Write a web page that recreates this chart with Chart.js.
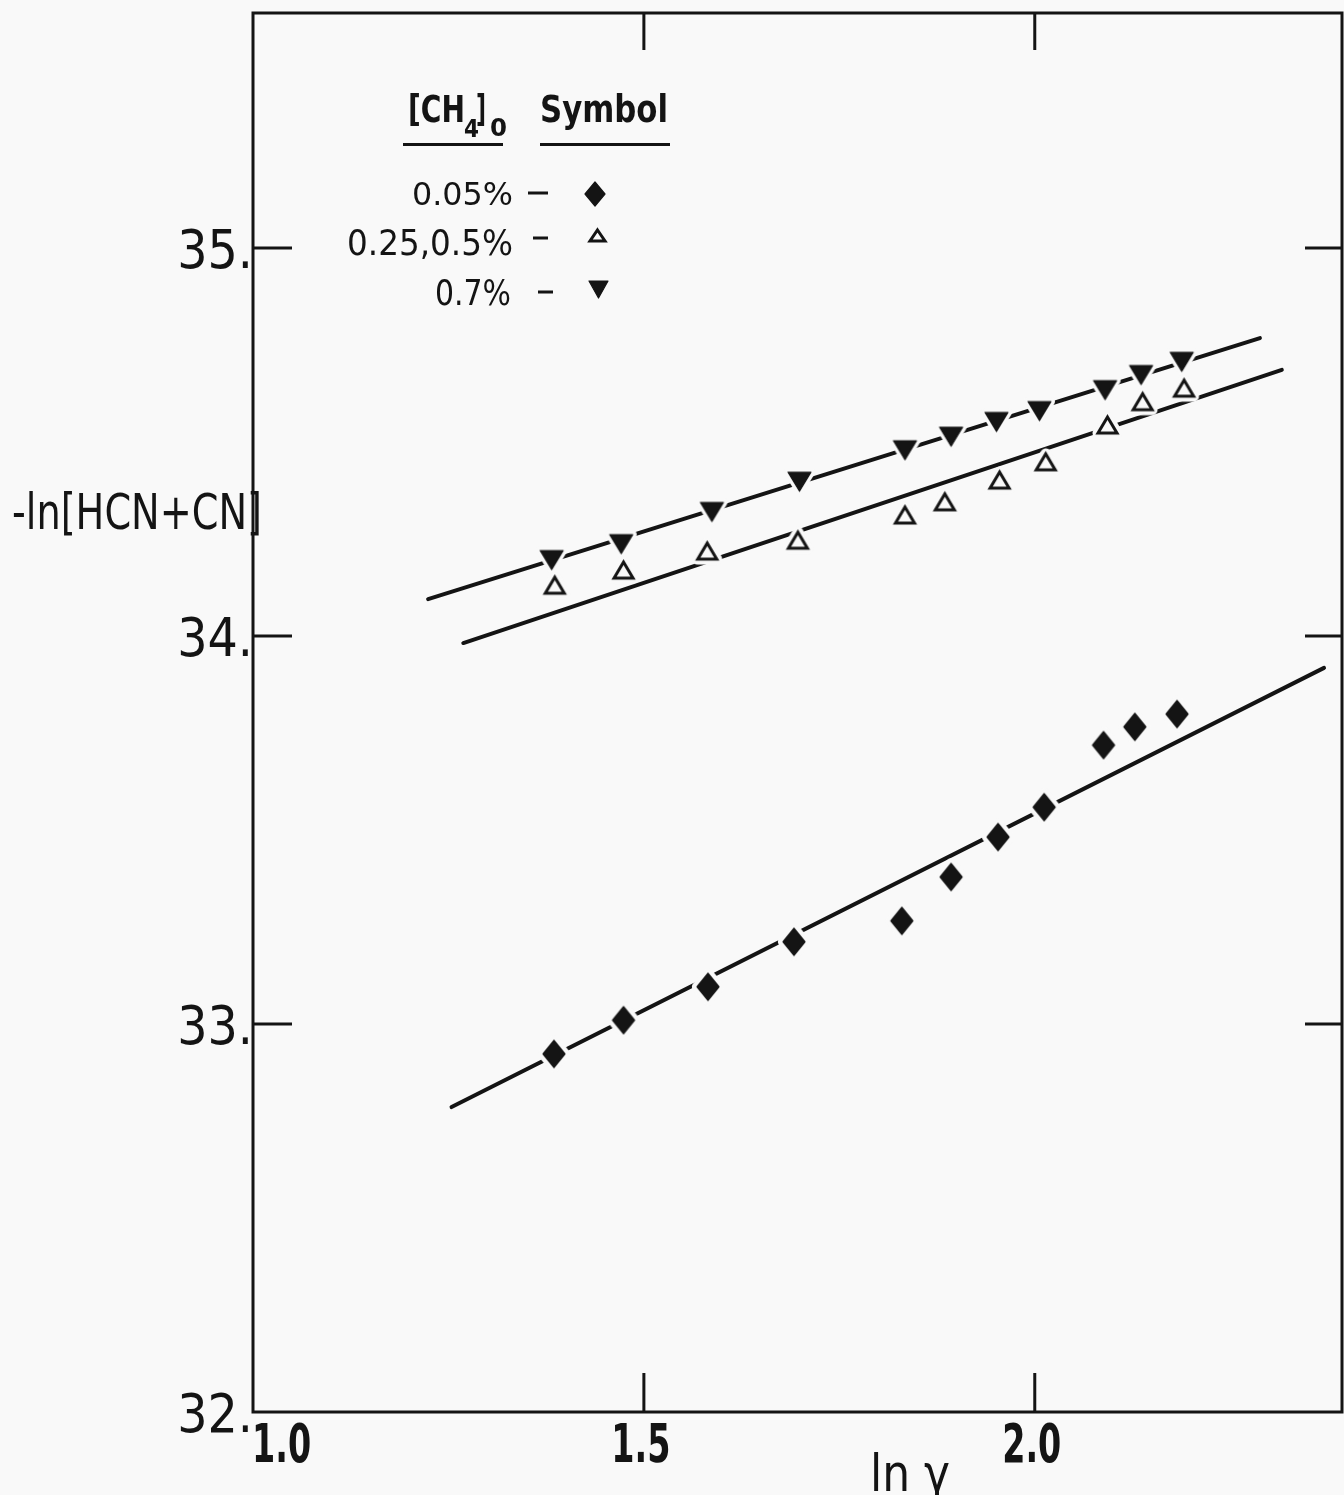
<!DOCTYPE html>
<html>
<head>
<meta charset="utf-8">
<script src="https://cdn.jsdelivr.net/npm/chart.js@4.4.1/dist/chart.umd.min.js"></script>
<style>
  html, body { margin: 0; padding: 0; background: #f9f9f9; }
  #wrap { width: 1344px; height: 1495px; }
  canvas { display: block; }
</style>
</head>
<body>
<div id="wrap"><canvas id="c" width="1344" height="1495"></canvas></div>
<script>
// -ln[HCN+CN] against ln(gamma) for three initial methane concentrations

// [CH4]0 = 0.05 %  (filled diamonds)
const lnGamma05 = [1.385, 1.474, 1.582, 1.692, 1.830, 1.893, 1.953, 2.012, 2.088, 2.128, 2.182];
const value05   = [32.923, 33.010, 33.096, 33.212, 33.266, 33.379, 33.482, 33.559, 33.719, 33.766, 33.799];

// [CH4]0 = 0.25, 0.5 %  (open triangles)
const lnGamma25 = [1.386, 1.474, 1.581, 1.697, 1.834, 1.885, 1.955, 2.014, 2.093, 2.138, 2.191];
const value25   = [34.131, 34.170, 34.219, 34.247, 34.312, 34.346, 34.402, 34.449, 34.544, 34.604, 34.639];

// [CH4]0 = 0.7 %  (filled inverted triangles)
const lnGamma07 = [1.382, 1.471, 1.587, 1.699, 1.834, 1.893, 1.951, 2.006, 2.090, 2.136, 2.188];
const value07   = [34.196, 34.237, 34.320, 34.398, 34.479, 34.514, 34.552, 34.580, 34.634, 34.673, 34.707];

// straight lines drawn through each set (end points)
const fitX05 = [1.254, 2.370];
const fitY05 = [32.786, 33.918];
const fitX25 = [1.269, 2.316];
const fitY25 = [33.982, 34.686];
const fitX07 = [1.224, 2.288];
const fitY07 = [34.095, 34.768];

// axes
const xTickValues = [1.0, 1.5, 2.0];
const xTickLabels = ['1.0', '1.5', '2.0'];
const yTickValues = [32, 33, 34, 35];
const yTickLabels = ['32.', '33.', '34.', '35.'];
const xRange = [1.0, 2.393];
const yRange = [32, 35.606];
const xTitle = 'ln γ';
const yTitle = '-ln[HCN+CN]';

// key
const keyHeaders = ['[CH', '4', ']', '0', 'Symbol'];
const seriesLabels = ['0.05%', '0.25,0.5%', '0.7%'];

const INK = '#141414';
const PAPER = '#f9f9f9';
const NARROW = "'Liberation Sans Narrow', 'DejaVu Sans Condensed', sans-serif";
const WIDE = "'DejaVu Sans', 'Liberation Sans', sans-serif";

function pts(xs, ys) { return xs.map((x, i) => ({ x: x, y: ys[i] })); }

function shapePath(ctx, kind, cx, cy, w, h) {
  ctx.beginPath();
  if (kind === 'diamond') {
    ctx.moveTo(cx, cy - h / 2); ctx.lineTo(cx + w / 2, cy);
    ctx.lineTo(cx, cy + h / 2); ctx.lineTo(cx - w / 2, cy);
  } else if (kind === 'down') {
    ctx.moveTo(cx - w / 2, cy - h / 2); ctx.lineTo(cx + w / 2, cy - h / 2);
    ctx.lineTo(cx, cy + h / 2);
  } else {
    ctx.moveTo(cx, cy - h / 2); ctx.lineTo(cx + w / 2, cy + h / 2);
    ctx.lineTo(cx - w / 2, cy + h / 2);
  }
  ctx.closePath();
}

// marker bitmaps; a halo version knocks the fitted line out around each symbol
function makeMarker(kind, w, h, halo) {
  const pad = halo + 4;
  const cv = document.createElement('canvas');
  cv.width = Math.round(w + 2 * pad);
  cv.height = Math.round(h + 2 * pad);
  const ctx = cv.getContext('2d');
  const cx = cv.width / 2, cy = cv.height / 2;
  shapePath(ctx, kind, cx, cy, w, h);
  ctx.lineJoin = 'round';
  if (halo > 0) {
    ctx.fillStyle = PAPER; ctx.strokeStyle = PAPER;
    ctx.lineWidth = 2 * halo + (kind === 'up' ? 3 : 0);
    ctx.fill(); ctx.stroke();
    return cv;
  }
  if (kind === 'up') {
    ctx.fillStyle = PAPER; ctx.fill();
    ctx.lineJoin = 'miter';
    ctx.lineWidth = 3; ctx.strokeStyle = INK; ctx.stroke();
  } else {
    ctx.fillStyle = INK; ctx.fill();
    ctx.lineWidth = 1.2; ctx.strokeStyle = INK; ctx.stroke();
  }
  return cv;
}

const markDiamond = makeMarker('diamond', 22, 27, 0);
const markUp = makeMarker('up', 19, 16, 0);
const markDown = makeMarker('down', 23, 19, 0);
const haloDiamond = makeMarker('diamond', 22, 27, 5);
const haloUp = makeMarker('up', 19, 16, 4);
const haloDown = makeMarker('down', 23, 19, 4);

const keyDiamond = makeMarker('diamond', 20, 24, 0);
const keyUp = makeMarker('up', 15, 11, 0);
const keyDown = makeMarker('down', 19, 17, 0);

function fitText(ctx, text, x, y, font, width, align) {
  ctx.save();
  ctx.font = font;
  ctx.textAlign = 'left';
  ctx.textBaseline = 'alphabetic';
  const m = ctx.measureText(text).width;
  const sx = width / m;
  const left = align === 'right' ? x - width : (align === 'center' ? x - width / 2 : x);
  ctx.translate(left, y);
  ctx.scale(sx, 1);
  ctx.fillText(text, 0, 0);
  ctx.restore();
}

// lettering on the x axis is condensed; draw it squeezed horizontally
function squeezedText(ctx, text, x, y, font, squeeze, align) {
  ctx.save();
  ctx.font = font;
  const w = ctx.measureText(text).width * squeeze;
  fitText(ctx, text, x, y, font, w, align);
  ctx.restore();
}

const paperPlugin = {
  id: 'paper',
  beforeDraw(chart) {
    const ctx = chart.ctx;
    ctx.save();
    ctx.fillStyle = PAPER;
    ctx.fillRect(0, 0, chart.width, chart.height);
    ctx.restore();
  }
};

const framePlugin = {
  id: 'frame',
  afterDraw(chart) {
    const ctx = chart.ctx;
    const a = chart.chartArea;
    const xs = chart.scales.x, ys = chart.scales.y;
    ctx.save();
    ctx.strokeStyle = INK;
    ctx.fillStyle = INK;
    ctx.lineWidth = 3;
    ctx.lineCap = 'butt';
    ctx.strokeRect(a.left, a.top, a.right - a.left, a.bottom - a.top);

    // inward tick marks on all four sides
    ctx.beginPath();
    xTickValues.forEach(v => {
      if (v <= xRange[0]) return;
      const px = xs.getPixelForValue(v);
      ctx.moveTo(px, a.top); ctx.lineTo(px, a.top + 37);
      ctx.moveTo(px, a.bottom); ctx.lineTo(px, a.bottom - 39);
    });
    yTickValues.forEach(v => {
      if (v <= yRange[0]) return;
      const py = ys.getPixelForValue(v);
      ctx.moveTo(a.left, py); ctx.lineTo(a.left + 39, py);
      ctx.moveTo(a.right, py); ctx.lineTo(a.right - 37, py);
    });
    ctx.stroke();

    // x tick labels: first one starts at the corner, the rest sit centred under their ticks
    xTickValues.forEach((v, i) => {
      const px = xs.getPixelForValue(v);
      const first = v <= xRange[0];
      squeezedText(ctx, xTickLabels[i], first ? px - 1 : px - 3, a.bottom + 50,
                   'bold 53px ' + NARROW, 0.7, first ? 'left' : 'center');
    });

    // axis titles
    fitText(ctx, yTitle, 12, 529, '50px ' + NARROW, 250, 'left');
    fitText(ctx, xTitle, 910, 1491, '52px ' + NARROW, 80, 'center');

    // key: headings
    const hb = 'bold 37px ' + WIDE;
    const hs = 'bold 25px ' + WIDE;
    fitText(ctx, keyHeaders[0], 408, 122, hb, 57, 'left');
    fitText(ctx, keyHeaders[1], 464, 137, hs, 15, 'left');
    fitText(ctx, keyHeaders[2], 476, 122, hb, 10, 'left');
    fitText(ctx, keyHeaders[3], 490, 136, hs, 17, 'left');
    fitText(ctx, keyHeaders[4], 540, 122, 'bold 37px ' + WIDE, 128, 'left');
    ctx.fillRect(403, 143, 100, 3);
    ctx.fillRect(540, 143, 130, 3);

    // key: rows
    fitText(ctx, seriesLabels[0], 513, 205, '32px ' + WIDE, 101, 'right');
    fitText(ctx, seriesLabels[1], 513, 255, '35px ' + WIDE, 166, 'right');
    fitText(ctx, seriesLabels[2], 511, 305, '35px ' + WIDE, 76, 'right');
    ctx.beginPath();
    ctx.moveTo(528, 193); ctx.lineTo(548, 193);
    ctx.moveTo(533, 238); ctx.lineTo(548, 238);
    ctx.moveTo(538, 292); ctx.lineTo(553, 292);
    ctx.stroke();
    [[keyDiamond, 595, 194], [keyUp, 597, 235], [keyDown, 598, 289]].forEach(k => {
      const img = k[0];
      ctx.drawImage(img, Math.round(k[1] - img.width / 2), Math.round(k[2] - img.height / 2));
    });
    ctx.restore();
  }
};

// the frame is fixed, so labels may run past the plot edges without reserving room
function noOverflowPadding(scale) {
  scale.paddingTop = 0; scale.paddingBottom = 0;
  scale.paddingLeft = 0; scale.paddingRight = 0;
}

const lineStyle = { showLine: true, borderColor: INK, borderWidth: 4, borderCapStyle: 'round',
                    pointRadius: 0, pointHoverRadius: 0, order: 3 };
const pointStyleOf = (img, ord) => ({ pointStyle: img, pointRadius: 12, pointHoverRadius: 12, order: ord });

new Chart(document.getElementById('c'), {
  type: 'scatter',
  data: {
    datasets: [
      Object.assign({ label: 'fit 0.05%', data: pts(fitX05, fitY05) }, lineStyle),
      Object.assign({ label: 'fit 0.25,0.5%', data: pts(fitX25, fitY25) }, lineStyle),
      Object.assign({ label: 'fit 0.7%', data: pts(fitX07, fitY07) }, lineStyle),
      Object.assign({ label: 'halo ' + seriesLabels[0], data: pts(lnGamma05, value05) }, pointStyleOf(haloDiamond, 2)),
      Object.assign({ label: 'halo ' + seriesLabels[1], data: pts(lnGamma25, value25) }, pointStyleOf(haloUp, 2)),
      Object.assign({ label: 'halo ' + seriesLabels[2], data: pts(lnGamma07, value07) }, pointStyleOf(haloDown, 2)),
      Object.assign({ label: seriesLabels[0], data: pts(lnGamma05, value05) }, pointStyleOf(markDiamond, 1)),
      Object.assign({ label: seriesLabels[1], data: pts(lnGamma25, value25) }, pointStyleOf(markUp, 1)),
      Object.assign({ label: seriesLabels[2], data: pts(lnGamma07, value07) }, pointStyleOf(markDown, 1))
    ]
  },
  options: {
    responsive: false,
    animation: false,
    devicePixelRatio: 1,
    events: [],
    layout: { autoPadding: false, padding: { top: 13, right: 2, left: 0, bottom: 0 } },
    plugins: { legend: { display: false }, tooltip: { enabled: false } },
    scales: {
      x: {
        type: 'linear', position: 'bottom',
        min: xRange[0], max: xRange[1],
        grid: { display: false, drawTicks: false },
        border: { display: false },
        afterBuildTicks(scale) {
          scale.ticks = xTickValues.map(v => ({ value: v }));
        },
        afterFit(scale) { scale.height = 83; noOverflowPadding(scale); },
        ticks: { display: false }
      },
      y: {
        type: 'linear', position: 'left',
        min: yRange[0], max: yRange[1],
        grid: { display: false, drawTicks: false },
        border: { display: false },
        afterBuildTicks(scale) {
          scale.ticks = yTickValues.map(v => ({ value: v }));
        },
        afterFit(scale) { scale.width = 253; noOverflowPadding(scale); },
        ticks: {
          autoSkip: false, padding: 0, labelOffset: 6,
          color: INK,
          font: { family: NARROW, size: 53 },
          callback(value) {
            const i = yTickValues.indexOf(value);
            return i >= 0 ? yTickLabels[i] : '';
          }
        }
      }
    }
  },
  plugins: [paperPlugin, framePlugin]
});
</script>
</body>
</html>
